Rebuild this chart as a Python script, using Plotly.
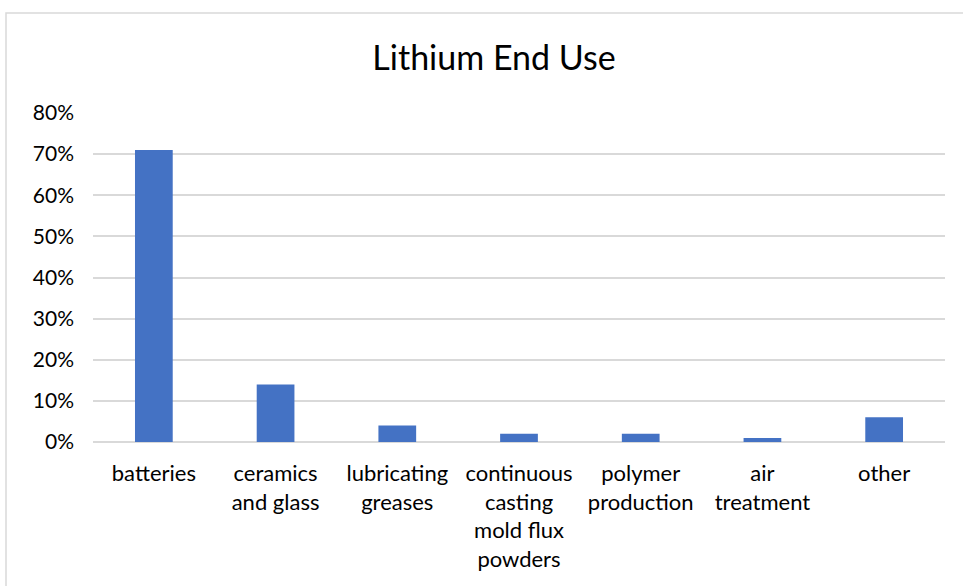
import plotly.graph_objects as go

categories = ["batteries", "ceramics<br>and glass", "lubricating<br>greases",
              "continuous<br>casting<br>mold flux<br>powders", "polymer<br>production",
              "air<br>treatment", "other"]
shares = [0.71, 0.14, 0.04, 0.02, 0.02, 0.01, 0.06]
y_ticks = [0, 0.1, 0.2, 0.3, 0.4, 0.5, 0.6, 0.7, 0.8]
y_tick_labels = ["0%", "10%", "20%", "30%", "40%", "50%", "60%", "70%", "80%"]

W, H = 963, 586
L, R, T, B = 93, 18, 113, 144
pw, ph = W - L - R, H - T - B

fig = go.Figure(go.Bar(x=categories, y=shares, marker_color="#4472C4",
                       marker_line_width=0, width=0.31))

# chart border (light grey), in paper coords
bx0 = (6 - L) / pw
by1 = (H - B - 13) / ph
fig.add_shape(type="rect", xref="paper", yref="paper", x0=bx0, x1=1.5, y0=-1, y1=by1,
              line=dict(color="#d9d9d9", width=1.5), fillcolor="rgba(0,0,0,0)", layer="below")

fig.update_layout(
    width=W, height=H,
    margin=dict(l=L, r=R, t=T, b=B),
    paper_bgcolor="white", plot_bgcolor="white",
    showlegend=False,
    title=dict(text="Lithium End Use", x=494 / W, xanchor="center", xref="container",
               y=1 - 58 / H, yanchor="middle", yref="container",
               font=dict(family="Lato", size=34, color="#000000")),
    font=dict(family="Lato", color="#000000"),
    bargap=0.69,
)
fig.update_xaxes(showgrid=False, showline=False, ticks="", tickfont=dict(size=22, color="#000"),
                 ticklabelstandoff=16)
fig.update_yaxes(range=[0, 0.8], tickvals=y_ticks, ticktext=y_tick_labels,
                 showgrid=True, gridcolor="#d9d9d9", gridwidth=1.5,
                 zeroline=True, zerolinecolor="#d9d9d9", zerolinewidth=1.5,
                 showline=False, ticks="", tickfont=dict(size=21, color="#000"),
                 ticklabelstandoff=18)

fig.write_html("out.html", config={"displayModeBar": False},
               post_script="document.body.style.margin='0';")
